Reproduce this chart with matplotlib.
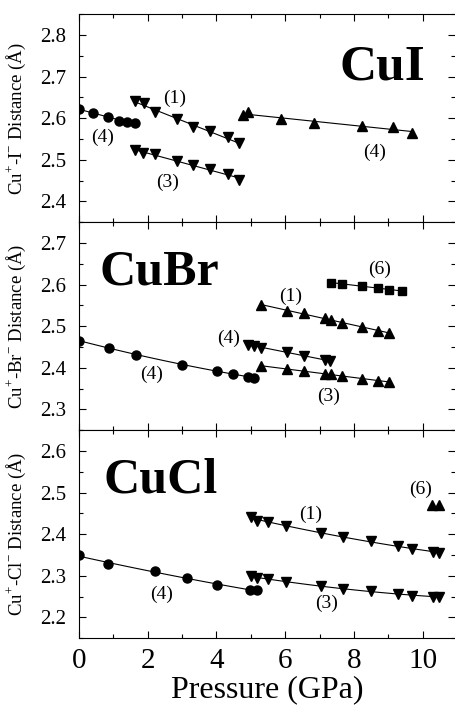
import numpy as np
import matplotlib
matplotlib.use("Agg")
import matplotlib.pyplot as plt
from matplotlib.ticker import MultipleLocator

plt.rcParams['font.family'] = ['Liberation Serif', 'DejaVu Serif']
plt.rcParams['mathtext.fontset'] = 'custom'
plt.rcParams['mathtext.rm'] = 'Liberation Serif'

# CuI
cui_p4a = [0.0, 0.42, 0.83, 1.17, 1.41, 1.64]
cui_d4a = [2.623, 2.612, 2.602, 2.594, 2.590, 2.588]
cui_p1 = [1.62, 1.89, 2.20, 2.84, 3.31, 3.81, 4.33, 4.65]
cui_d1 = [2.641, 2.637, 2.616, 2.597, 2.578, 2.569, 2.554, 2.541]
cui_p3 = [1.62, 1.87, 2.20, 2.84, 3.31, 3.81, 4.33, 4.65]
cui_d3 = [2.524, 2.516, 2.513, 2.498, 2.487, 2.478, 2.466, 2.452]
cui_p4b = [4.76, 4.92, 5.87, 6.84, 8.23, 9.13, 9.69]
cui_d4b = [2.608, 2.615, 2.599, 2.589, 2.581, 2.578, 2.565]

# CuBr
cubr_p4a = [0.0, 0.88, 1.66, 2.99, 4.01, 4.49, 4.93, 5.09]
cubr_d4a = [2.465, 2.448, 2.432, 2.408, 2.392, 2.385, 2.379, 2.376]
cubr_p4b = [4.93, 5.09, 5.30, 6.04, 6.55, 7.16, 7.30]
cubr_d4b = [2.456, 2.453, 2.448, 2.439, 2.429, 2.419, 2.416]
cubr_p3 = [5.30, 6.04, 6.55, 7.16, 7.33, 7.64, 8.24, 8.70, 9.03]
cubr_d3 = [2.405, 2.397, 2.392, 2.386, 2.385, 2.380, 2.373, 2.369, 2.367]
cubr_p1 = [5.30, 6.04, 6.55, 7.16, 7.33, 7.64, 8.24, 8.70, 9.03]
cubr_d1 = [2.551, 2.537, 2.531, 2.521, 2.516, 2.508, 2.497, 2.489, 2.484]
cubr_p6 = [7.32, 7.64, 8.24, 8.70, 9.03, 9.41]
cubr_d6 = [2.605, 2.602, 2.597, 2.591, 2.588, 2.585]

# CuCl
cucl_p4 = [0.0, 0.83, 2.21, 3.15, 4.01, 4.97, 5.17]
cucl_d4 = [2.349, 2.329, 2.311, 2.295, 2.279, 2.265, 2.265]
cucl_p1 = [5.0, 5.19, 5.51, 6.02, 7.03, 7.69, 8.50, 9.27, 9.68, 10.29, 10.48]
cucl_d1 = [2.442, 2.433, 2.429, 2.420, 2.403, 2.393, 2.383, 2.372, 2.365, 2.358, 2.356]
cucl_p3 = [5.0, 5.19, 5.51, 6.02, 7.03, 7.69, 8.50, 9.27, 9.68, 10.29, 10.48]
cucl_d3 = [2.299, 2.295, 2.293, 2.286, 2.275, 2.269, 2.263, 2.257, 2.252, 2.250, 2.250]
cucl_p6 = [10.26, 10.48]
cucl_d6 = [2.470, 2.470]


def series(ax, p, d, marker, ms=6.5, fit=1):
    p = np.array(p)
    d = np.array(d)
    if fit:
        c = np.polyfit(p, d, fit)
        xx = np.linspace(p.min(), p.max(), 50)
        ax.plot(xx, np.polyval(c, xx), 'k-', lw=0.8)
    ax.plot(p, d, 'k', marker=marker, ls='none', ms=ms)


fig, axs = plt.subplots(3, 1, figsize=(4.55, 7.11), dpi=100, sharex=True)
fig.subplots_adjust(left=0.1736, right=1.0, top=0.980, bottom=0.1023, hspace=0)

lab = 14

ax = axs[0]
series(ax, cui_p4a, cui_d4a, 'o')
series(ax, cui_p1, cui_d1, 'v')
series(ax, cui_p3, cui_d3, 'v')
series(ax, cui_p4b, cui_d4b, '^')
ax.set_ylim(2.35, 2.85)
ax.text(10.07, 2.694, 'CuI', fontsize=37, fontweight='bold', ha='right', va='baseline')
ax.text(2.79, 2.647, '(1)', fontsize=lab, ha='center', va='center')
ax.text(0.69, 2.554, '(4)', fontsize=lab, ha='center', va='center')
ax.text(2.58, 2.446, '(3)', fontsize=lab, ha='center', va='center')
ax.text(8.61, 2.518, '(4)', fontsize=lab, ha='center', va='center')
ax.set_ylabel(r'Cu$^{+}$-I$^{-}$ Distance (Å)', fontsize=13.5)

ax = axs[1]
series(ax, cubr_p4a, cubr_d4a, 'o', fit=2)
series(ax, cubr_p4b, cubr_d4b, 'v')
series(ax, cubr_p3, cubr_d3, '^', fit=2)
series(ax, cubr_p1, cubr_d1, '^')
series(ax, cubr_p6, cubr_d6, 's', ms=6)
ax.set_ylim(2.25, 2.75)
ax.text(0.61, 2.6, 'CuBr', fontsize=36, fontweight='bold', ha='left', va='baseline')
ax.text(8.74, 2.637, '(6)', fontsize=lab, ha='center', va='center')
ax.text(6.17, 2.571, '(1)', fontsize=lab, ha='center', va='center')
ax.text(4.34, 2.471, '(4)', fontsize=lab, ha='center', va='center')
ax.text(2.11, 2.384, '(4)', fontsize=lab, ha='center', va='center')
ax.text(7.25, 2.331, '(3)', fontsize=lab, ha='center', va='center')
ax.set_ylabel(r'Cu$^{+}$-Br$^{-}$ Distance (Å)', fontsize=13.5)

ax = axs[2]
series(ax, cucl_p4, cucl_d4, 'o', fit=2)
series(ax, cucl_p1, cucl_d1, 'v', fit=2)
series(ax, cucl_p3, cucl_d3, 'v', fit=2)
series(ax, cucl_p6, cucl_d6, '^', fit=0)
ax.set_ylim(2.15, 2.65)
ax.text(0.70, 2.5, 'CuCl', fontsize=36, fontweight='bold', ha='left', va='baseline')
ax.text(9.94, 2.508, '(6)', fontsize=lab, ha='center', va='center')
ax.text(6.74, 2.447, '(1)', fontsize=lab, ha='center', va='center')
ax.text(2.39, 2.255, '(4)', fontsize=lab, ha='center', va='center')
ax.text(7.21, 2.233, '(3)', fontsize=lab, ha='center', va='center')
ax.set_ylabel(r'Cu$^{+}$-Cl$^{-}$ Distance (Å)', fontsize=13.5)
ax.set_xlabel('Pressure (GPa)', fontsize=23, labelpad=1)

for ax in axs:
    ax.set_xlim(0, 10.94)
    ax.xaxis.set_major_locator(MultipleLocator(2))
    ax.xaxis.set_minor_locator(MultipleLocator(1))
    ax.yaxis.set_major_locator(MultipleLocator(0.1))
    ax.yaxis.set_minor_locator(MultipleLocator(0.05))
    ax.tick_params(which='both', direction='in', top=True, right=True, width=0.8)
    ax.tick_params(which='major', length=5, labelsize=15)
    ax.tick_params(which='minor', length=3)
    ax.tick_params(axis='y', pad=9)
    ax.tick_params(axis='x', labelsize=21, pad=7)
    ax.spines['right'].set_visible(False)
    for s in ['left', 'top', 'bottom']:
        ax.spines[s].set_linewidth(0.8)
    ax.yaxis.set_label_coords(-0.135, 0.5)

fig.savefig('out.png', dpi=100)
